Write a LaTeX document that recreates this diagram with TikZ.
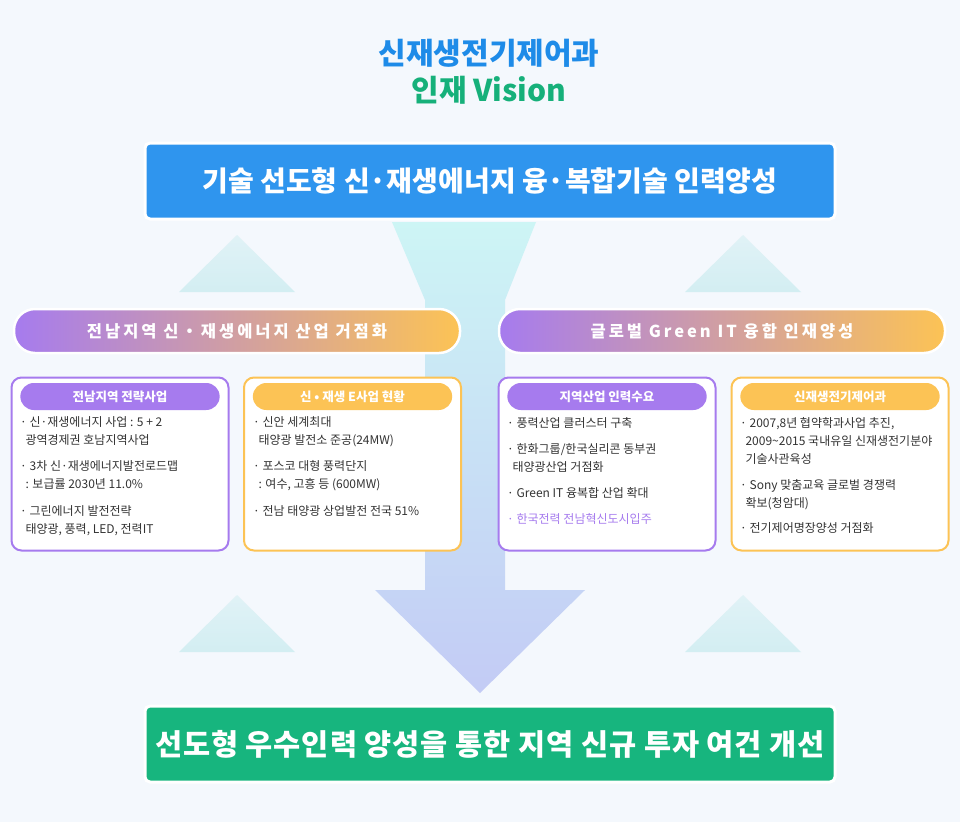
\documentclass[tikz,border=0pt]{standalone}
\usepackage{fontspec}
\setmainfont{Noto Sans CJK KR}
\usetikzlibrary{shapes.misc}
\definecolor{bg}{HTML}{F4F8FD}
\definecolor{tblue}{HTML}{1E8BE8}
\definecolor{tgreen}{HTML}{16B07A}
\definecolor{boxblue}{HTML}{2F95EE}
\definecolor{boxgreen}{HTML}{17B57E}
\definecolor{purp}{HTML}{A67BEE}
\definecolor{yel}{HTML}{FCC355}
\definecolor{txt}{HTML}{333333}
\definecolor{tri}{HTML}{D3EEF2}
\definecolor{atop}{HTML}{CDF5F5}
\definecolor{abot}{HTML}{C3CBF5}
\tikzset{
 bigbox/.style={rounded corners=5pt,draw=white,line width=3pt,minimum width=690pt,minimum height=76pt,text=white,font=\fontsize{28}{32}\selectfont\bfseries},
 card/.style={rounded corners=10pt,fill=white,line width=2pt,minimum width=217pt,minimum height=173pt},
 head/.style={rounded rectangle,minimum width=206pt,minimum height=27pt,text=white,font=\fontsize{12.5}{14}\selectfont\bfseries},
 item/.style={anchor=north west,align=left,inner sep=0pt,text=txt,font=\fontsize{12}{18}\selectfont},
}
\begin{document}
\begin{tikzpicture}[x=1pt,y=-1pt]
\fill[bg] (0,0) rectangle (960,822);
\useasboundingbox (0,0) rectangle (960,822);
% triangles
\foreach \cx/\ty in {237/235,743/235,237/595,743/595}{
 \shade[top color=tri!60!bg,bottom color=tri] (\cx,\ty) -- (\cx+58,\ty+57) -- (\cx-58,\ty+57) -- cycle;}
% big arrow
\shade[top color=atop,bottom color=abot] (392,222) -- (536,222) -- (505,300) -- (505,590) -- (585,590) -- (480,693) -- (375,590) -- (425,590) -- (425,300) -- cycle;
% title
\node[text=tblue,font=\fontsize{30}{34}\selectfont\bfseries] (t1) at (489,53) {신재생전기제어과};
\node[text=tgreen,font=\fontsize{30}{34}\selectfont\bfseries] (t2) at (489,90) {인재 Vision};
\node[bigbox,fill=boxblue] (top) at (490,181) {기술 선도형 신·재생에너지 융·복합기술 인력양성};
\node[bigbox,fill=boxgreen,font=\fontsize{29.5}{32}\selectfont\bfseries] (bot) at (490,744) {\addfontfeature{LetterSpace=3}선도형 우수인력 양성을 통한 지역 신규 투자 여건 개선};
% pills
\foreach \n/\x/\t in {pl/237/{전남지역 신・재생에너지 산업 거점화},pr/722/{글로벌 Green IT 융합 인재양성}}{
 \shade[rounded corners=21pt,left color=purp,right color=yel] (\x-223,309) rectangle (\x+223,353);
 \draw[white,line width=2.5pt,rounded corners=21pt] (\x-223,309) rectangle (\x+223,353);
 \node[text=white,font=\fontsize{16.5}{18}\selectfont\bfseries] (\n) at (\x,331) {\addfontfeature{LetterSpace=18}\t};}
% cards
\node[card,draw=purp] (c1) at (120,464) {};
\node[card,draw=yel] (c2) at (352.5,464) {};
\node[card,draw=purp] (c3) at (607,464) {};
\node[card,draw=yel] (c4) at (840,464) {};
\node[head,fill=purp] (h1) at (120,396.5) {전남지역 전략사업};
\node[head,fill=yel] (h2) at (352.5,396.5) {신 • 재생 E사업 현황};
\node[head,fill=purp] (h3) at (607,396.5) {지역산업 인력수요};
\node[head,fill=yel] (h4) at (840,396.5) {신재생전기제어과};
% card 1
\node[item] (a1) at (20,416) {· 신·재생에너지 사업 : 5 + 2\\\ \ 광역경제권 호남지역사업};
\node[item] (a2) at (20,460) {· 3차 신·재생에너지발전로드맵\\\ \ : 보급률 2030년 11.0\%};
\node[item] (a3) at (20,505) {· 그린에너지 발전전략\\\ \ 태양광, 풍력, LED, 전력IT};
% card 2
\node[item] (b1) at (253,416) {· 신안 세계최대\\\ \ 태양광 발전소 준공(24MW)};
\node[item] (b2) at (253,460) {· 포스코 대형 풍력단지\\\ \ : 여수, 고흥 등 (600MW)};
\node[item] (b3) at (253,505) {· 전남 태양광 상업발전 전국 51\%};
% card 3
\node[item] (d1) at (507,417) {· 풍력산업 클러스터 구축};
\node[item] (d2) at (507,443) {· 한화그룹/한국실리콘 동부권\\\ \ 태양광산업 거점화};
\node[item] (d3) at (507,487) {· Green IT 융복합 산업 확대};
\node[item,text=purp] (d4) at (507,513) {· 한국전력 전남혁신도시입주};
% card 4
\node[item] (e1) at (740,417) {· 2007,8년 협약학과사업 추진,\\\ \ 2009\textasciitilde2015 국내유일 신재생전기분야\\\ \ 기술사관육성};
\node[item] (e2) at (740,479) {· Sony 맞춤교육 글로벌 경쟁력\\\ \ 확보(청암대)};
\node[item] (e3) at (740,522) {· 전기제어명장양성 거점화};
\end{tikzpicture}
\end{document}
